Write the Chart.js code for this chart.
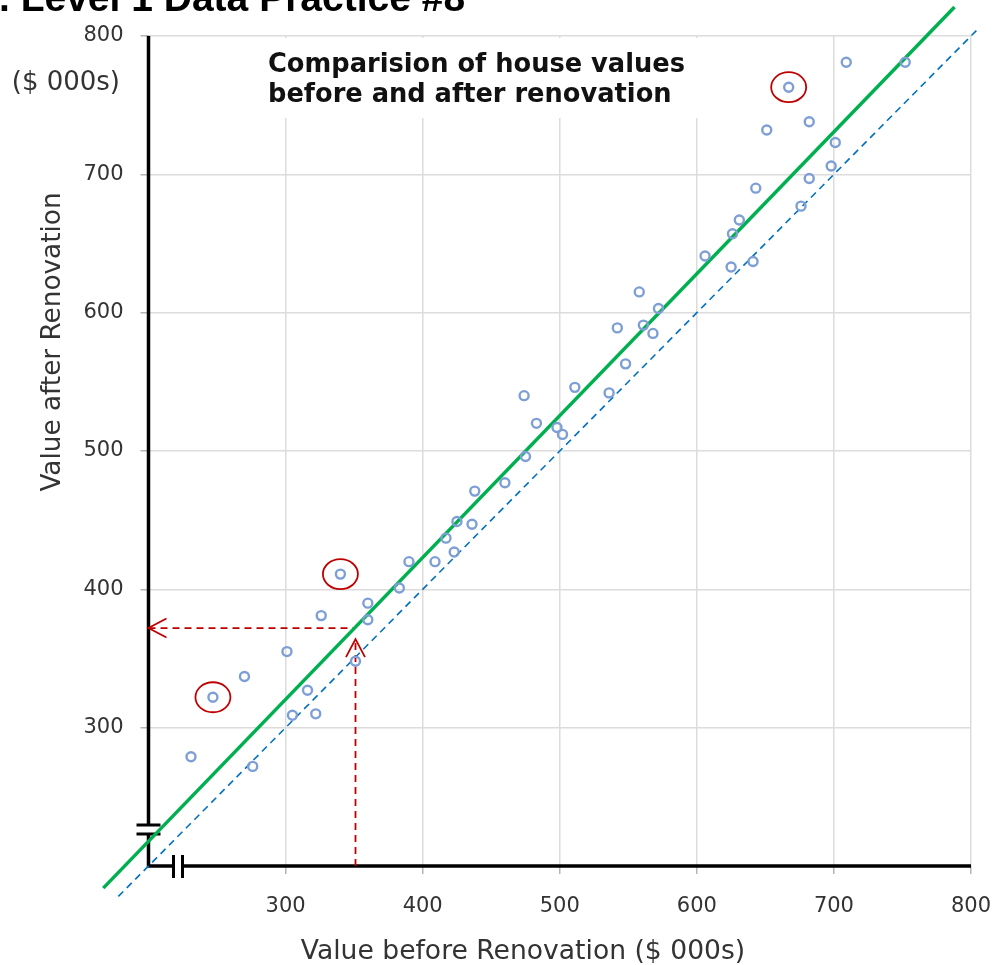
<!DOCTYPE html>
<html><head><meta charset="utf-8">
<script src="https://cdn.jsdelivr.net/npm/chart.js@4.4.0/dist/chart.umd.min.js"></script>
<style>html,body{margin:0;padding:0;background:#fff;overflow:hidden}#wrap{position:relative;width:996px;height:965px}</style>
</head><body><div id="wrap"><canvas id="c" width="996" height="965"></canvas></div>
<script>
// ---- data ----
const beforeValues = [231,276,247,270,301,305,316,322,326,340,351,360,360,383,390,409,423,417,425,436,438,460,475,474,483,498,502,511,536,548,542,558,561,568,572,606,625,641,626,631,643,676,682,698,701,682,651,667,709,752];
const afterValues  = [279,272,322,337,355,309,327,310,381,411,348,390,378,401,420,420,427,437,449,447,471,477,496,540,520,517,512,546,542,563,589,615,591,585,603,641,633,637,657,667,690,677,697,706,723,738,732,763,781,781];
const trendX = [167, 788];
const trendY = [184, 821];
const identityX = [178, 804];
const identityY = [178, 804];
const guideX = 351;
const guideY = 372;
const guideArrowY = 364;
const highlightX = [247, 340, 667];
const highlightY = [322, 411, 763];
const xTicks = [300, 400, 500, 600, 700, 800];
const yTicks = [300, 400, 500, 600, 700, 800];
const axisMin = 200, axisMax = 800;
const pageTitle = ". Level 1 Data Practice #8";
const chartTitle = ["Comparision of house values", "before and after renovation"];
const xTitle = "Value before Renovation ($ 000s)";
const yTitle = "Value after Renovation";
const yUnit = "($ 000s)";

const pts = beforeValues.map((v, i) => ({x: v, y: afterValues[i]}));
const trend = trendX.map((v, i) => ({x: v, y: trendY[i]}));
const ident = identityX.map((v, i) => ({x: v, y: identityY[i]}));
const guideV = [{x: guideX, y: axisMin}, {x: guideX, y: guideArrowY}];
const guideH = [{x: axisMin, y: guideY}, {x: guideX, y: guideY}];

const RED = '#c00000';
const FONT = "'DejaVu Sans', Verdana, sans-serif";

const decor = {
  id: 'decor',
  beforeDatasetsDraw(chart) {
    const {ctx, chartArea: a} = chart;
    ctx.save();
    // white box behind the title
    ctx.fillStyle = '#fff';
    ctx.fillRect(a.left + 110, a.top + 2, 450, 80);
    // axes with break marks
    ctx.strokeStyle = '#000';
    ctx.lineWidth = 3.5;
    ctx.lineCap = 'butt';
    ctx.beginPath();
    ctx.moveTo(a.left, a.top); ctx.lineTo(a.left, a.bottom - 41);
    ctx.moveTo(a.left, a.bottom - 32); ctx.lineTo(a.left, a.bottom + 1.5);
    ctx.moveTo(a.left - 1.5, a.bottom); ctx.lineTo(a.left + 25, a.bottom);
    ctx.moveTo(a.left + 34, a.bottom); ctx.lineTo(a.right, a.bottom);
    ctx.stroke();
    ctx.lineWidth = 3;
    ctx.beginPath();
    ctx.moveTo(a.left - 12, a.bottom - 41); ctx.lineTo(a.left + 12, a.bottom - 41);
    ctx.moveTo(a.left - 12, a.bottom - 32); ctx.lineTo(a.left + 12, a.bottom - 32);
    ctx.moveTo(a.left + 25, a.bottom - 11); ctx.lineTo(a.left + 25, a.bottom + 12);
    ctx.moveTo(a.left + 34, a.bottom - 11); ctx.lineTo(a.left + 34, a.bottom + 12);
    ctx.stroke();
    ctx.restore();
  },
  afterDatasetsDraw(chart) {
    const {ctx, chartArea: a, scales: {x, y}} = chart;
    ctx.save();
    // arrowheads
    ctx.strokeStyle = RED; ctx.lineWidth = 1.8;
    const hx = x.getPixelForValue(axisMin), hy = y.getPixelForValue(guideY);
    ctx.beginPath();
    ctx.moveTo(hx + 18, hy - 9.5); ctx.lineTo(hx, hy); ctx.lineTo(hx + 18, hy + 9.5);
    const vx = x.getPixelForValue(guideX), vy = y.getPixelForValue(guideArrowY);
    ctx.moveTo(vx - 9.5, vy + 18); ctx.lineTo(vx, vy); ctx.lineTo(vx + 9.5, vy + 18);
    ctx.stroke();
    // highlight ellipses
    highlightX.forEach((hv, i) => {
      ctx.beginPath();
      ctx.ellipse(x.getPixelForValue(hv), y.getPixelForValue(highlightY[i]), 17.5, 15, 0, 0, Math.PI * 2);
      ctx.stroke();
    });
    // texts
    ctx.fillStyle = '#000';
    ctx.textBaseline = 'alphabetic';
    ctx.textAlign = 'left';
    ctx.font = "bold 39px 'Liberation Sans', Arial, sans-serif";
    ctx.fillText(pageTitle, -1, 11);
    ctx.fillStyle = '#111';
    ctx.font = "bold 25.7px " + FONT;
    ctx.fillText(chartTitle[0], 268, 72);
    ctx.fillText(chartTitle[1], 268, 102);
    ctx.fillStyle = '#333';
    ctx.font = "26px " + FONT;
    ctx.textAlign = 'right';
    ctx.fillText(yUnit, 120, 90);
    ctx.font = "26.6px " + FONT;
    ctx.textAlign = 'center';
    ctx.fillText(xTitle, 523, 959);
    ctx.font = "26.3px " + FONT;
    ctx.translate(59.5, 342);
    ctx.rotate(-Math.PI / 2);
    ctx.fillText(yTitle, 0, 0);
    ctx.restore();
  }
};

const tickFont = {family: FONT, size: 21};

new Chart(document.getElementById('c'), {
  type: 'scatter',
  data: {
    datasets: [
      {data: pts, pointStyle: 'circle', pointRadius: 4.5, pointBorderWidth: 2.4,
       borderColor: '#7d9fd5', backgroundColor: 'rgba(255,255,255,0)', showLine: false, order: 0},
      {data: trend, showLine: true, pointRadius: 0, borderColor: '#00b050', borderWidth: 3.5, clip: false, order: 1},
      {data: ident, showLine: true, pointRadius: 0, borderColor: '#0070c0', borderWidth: 1.6, borderDash: [7, 5], clip: false, order: 2},
      {data: guideV, showLine: true, pointRadius: 0, borderColor: RED, borderWidth: 1.8, borderDash: [7, 5], clip: false, order: 3},
      {data: guideH, showLine: true, pointRadius: 0, borderColor: RED, borderWidth: 1.8, borderDash: [7, 5], clip: false, order: 4}
    ]
  },
  options: {
    responsive: false,
    animation: false,
    events: [],
    layout: {padding: {top: 36, right: 25, left: 0, bottom: 0}},
    plugins: {legend: {display: false}, tooltip: {enabled: false}, title: {display: false}},
    scales: {
      x: {
        type: 'linear', min: axisMin, max: axisMax,
        afterBuildTicks: s => { s.ticks = xTicks.map(v => ({value: v})); },
        afterFit: s => { s.height = 99; s.paddingLeft = 0; s.paddingRight = 0; },
        grid: {color: '#dcdcdc', lineWidth: 1.5, tickLength: 8, tickColor: '#b5b5b5', drawTicks: true},
        border: {display: false},
        ticks: {font: tickFont, color: '#333', padding: 20, maxRotation: 0, autoSkip: false}
      },
      y: {
        type: 'linear', min: axisMin, max: axisMax,
        afterBuildTicks: s => { s.ticks = yTicks.map(v => ({value: v})); },
        afterFit: s => { s.width = 148.5; s.paddingTop = 0; s.paddingBottom = 0; },
        grid: {color: '#dcdcdc', lineWidth: 1.5, tickLength: 8, tickColor: '#b5b5b5', drawTicks: true},
        border: {display: false},
        ticks: {font: tickFont, color: '#333', padding: 17, autoSkip: false}
      }
    }
  },
  plugins: [decor]
});
</script></body></html>
